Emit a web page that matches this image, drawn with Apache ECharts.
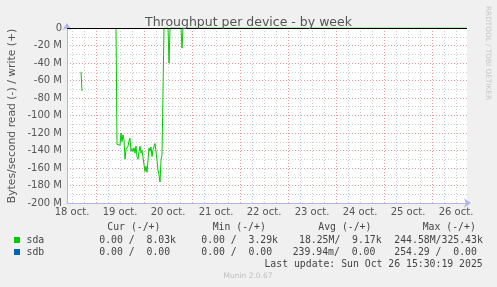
<!DOCTYPE html>
<html><head><meta charset="utf-8">
<script src="https://cdn.jsdelivr.net/npm/echarts@6/dist/echarts.min.js"></script>
<style>html,body{margin:0;padding:0;background:#f0f0f0}#c{width:497px;height:287px}</style>
</head><body><div id="c"></div>
<script>
// ---- data ----
const chartTitle = 'Throughput per device - by week';
const yAxisTitle = 'Bytes/second read (-) / write (+)';
const dayLabels = ['18 oct.', '19 oct.', '20 oct.', '21 oct.', '22 oct.', '23 oct.', '24 oct.', '25 oct.', '26 oct.'];
const startHour = 9.5;   // hours since 18 oct 00:00 (left edge)
const endHour = 209.5;   // right edge
const yTicks = [0, -20, -40, -60, -80, -100, -120, -140, -160, -180, -200];
// sda read (negative, in M) at 30-min steps (hours since 18 oct 00:00); null = no data
const sdaHours = [16.5, 17, 17.5, 34, 34.5, 35, 35.5, 36, 36.5, 37, 37.5, 38, 38.5, 39, 39.5, 40, 40.5, 41, 41.5, 42, 42.5, 43, 43.5, 44, 44.5, 45, 45.5, 46, 46.5, 47, 47.5, 48, 48.5, 49, 49.5, 50, 50.5, 51, 51.5, 52, 52.5, 53, 53.5, 54, 54.5, 55, 55.5, 56, 56.5, 57, 57.5, 58, 60, 60.5, 61, 66.5, 67, 67.5, 209.5];
const sdaRead = [-50, -72, null, 0, -133, -134, -134, -134, -120, -130, -122, -128, -150, -139, -137, -135, -129, -126, -141, -138, -141, -137, -143, -135, -147, -150, -141, -135, -143, -140, -139, -141, -164, -158, -165, -151, -137, -141, -136, -147, -139, -141, -132, -131, -151, -162, -168, -176, -151, -145, -143, 0, 0, -40, 0, 0, -23, 0, 0];
const legendNames = ['sda', 'sdb'];
const legendColors = ['#00cc00', '#0066b3'];
const legendHeader = ['Cur (-/+)', 'Min (-/+)', 'Avg (-/+)', 'Max (-/+)'];
const legendCur = ['0.00 /  8.03k', '0.00 /  0.00'];
const legendMin = ['0.00 /  3.29k', '0.00 /  0.00'];
const legendAvg = ['18.25M/  9.17k', '239.94m/  0.00'];
const legendMax = ['244.58M/325.43k', '254.29 /  0.00'];
const lastUpdate = 'Last update: Sun Oct 26 15:30:19 2025';
const footer = 'Munin 2.0.67';
const watermark = 'RRDTOOL / TOBI OETIKER';

// ---- build ----
const gridCats = [];
for (let h = startHour; h <= endHour + 1e-9; h += 0.5) gridCats.push(String(h));
const sdaData = sdaHours.map((h, i) => [h, sdaRead[i] === null ? '-' : sdaRead[i]]);

const chart = echarts.init(document.getElementById('c'), null, {renderer: 'canvas'});
const FONT = 'DejaVu Sans';
const MONO = 'DejaVu Sans Mono';
const axisCol = '#b4b4ec';
const majorCol = 'rgba(225,120,120,0.75)';
const minorCol = 'rgba(170,170,170,0.6)';

const gfx = [];
gfx.push({type: 'text', x: 12, y: 116, rotation: Math.PI / 2,
  style: {text: yAxisTitle, font: '10.8px ' + FONT, fill: '#555', align: 'center', verticalAlign: 'middle'}});
gfx.push({type: 'text', x: 488, y: 53, rotation: -Math.PI / 2,
  style: {text: watermark, font: '7.3px ' + FONT, fill: '#c8c8c8', align: 'center', verticalAlign: 'middle'}});
const colX = [107.3, 212.7, 318.3, 422.7];
legendHeader.forEach((t, i) => gfx.push({type: 'text', x: colX[i], y: 227.5,
  style: {text: t, font: '9.8px ' + MONO, fill: '#444', align: 'left', verticalAlign: 'middle'}}));
const rowY = [240, 252];
legendNames.forEach((n, r) => {
  gfx.push({type: 'rect', shape: {x: 14, y: rowY[r] - 3, width: 6, height: 6}, style: {fill: legendColors[r]}});
  gfx.push({type: 'text', x: 26.5, y: rowY[r], style: {text: n, font: '9.8px ' + MONO, fill: '#444', align: 'left', verticalAlign: 'middle'}});
  const vals = [legendCur[r], legendMin[r], legendAvg[r], legendMax[r]];
  const xs = [99.3, 201.3, r === 0 ? 299 : 292.7, 394.3];
  vals.forEach((v, i) => gfx.push({type: 'text', x: xs[i], y: rowY[r],
    style: {text: v, font: '9.8px ' + MONO, fill: '#444', align: 'left', verticalAlign: 'middle'}}));
});
gfx.push({type: 'text', x: 482.7, y: 264, style: {text: lastUpdate, font: '9.8px ' + MONO, fill: '#444', align: 'right', verticalAlign: 'middle'}});
gfx.push({type: 'text', x: 248, y: 276.5, style: {text: footer, font: '7.5px ' + FONT, fill: '#bdbdbd', align: 'center', verticalAlign: 'middle'}});

chart.setOption({
  animation: false,
  backgroundColor: '#f0f0f0',
  title: {text: chartTitle, left: 'center', top: 11,
    textStyle: {fontFamily: FONT, fontSize: 12.5, fontWeight: 'normal', color: '#555'}},
  grid: {left: 67, top: 28, width: 400, height: 175, containLabel: false, show: true, backgroundColor: '#fff', borderWidth: 0},
  xAxis: [
    {type: 'value', min: startHour, max: endHour, show: false},
    {type: 'category', data: gridCats, boundaryGap: false, position: 'bottom',
      axisLine: {show: true, lineStyle: {color: axisCol, width: 1}, symbol: ['none', 'arrow'], symbolSize: [7, 7], symbolOffset: [0, 4]},
      axisTick: {show: false},
      axisLabel: {show: true, interval: (i, v) => ((+v) - 12) % 24 === 0, formatter: (v) => dayLabels[Math.round(((+v) - 12) / 24)] || '',
        color: '#555', fontFamily: FONT, fontSize: 10, margin: 4},
      splitLine: {show: true, interval: (i, v) => (+v) % 24 === 0, lineStyle: {color: majorCol, type: [1, 2], width: 1}}},
    {type: 'category', data: gridCats, boundaryGap: false, position: 'bottom',
      axisLine: {show: false}, axisTick: {show: false}, axisLabel: {show: false},
      splitLine: {show: true, interval: (i, v) => (+v) % 6 === 0 && (+v) % 24 !== 0, lineStyle: {color: minorCol, type: [1, 2], width: 1}}}
  ],
  yAxis: {type: 'value', min: yTicks[yTicks.length - 1], max: yTicks[0], interval: 20,
    axisLine: {show: true, lineStyle: {color: axisCol, width: 1}, symbol: ['none', 'arrow'], symbolSize: [7, 7], symbolOffset: [0, 5]},
    axisTick: {show: false},
    axisLabel: {formatter: (v) => v === 0 ? '0' : v + ' M', color: '#555', fontFamily: FONT, fontSize: 10, margin: 5},
    splitLine: {show: true, lineStyle: {color: majorCol, type: [1, 2], width: 1}},
    minorTick: {show: false, splitNumber: 2},
    minorSplitLine: {show: true, lineStyle: {color: minorCol, type: [1, 2], width: 1}}},
  series: [{
    name: legendNames[0], type: 'line', xAxisIndex: 0, data: sdaData, showSymbol: false, symbol: 'none',
    connectNulls: false, lineStyle: {color: legendColors[0], width: 1}, z: 3,
    markLine: {silent: true, symbol: ['none', 'none'], label: {show: false},
      lineStyle: {color: '#000', type: 'solid', width: 1.2}, data: [{yAxis: 0}]}
  }],
  graphic: gfx
});
</script></body></html>
